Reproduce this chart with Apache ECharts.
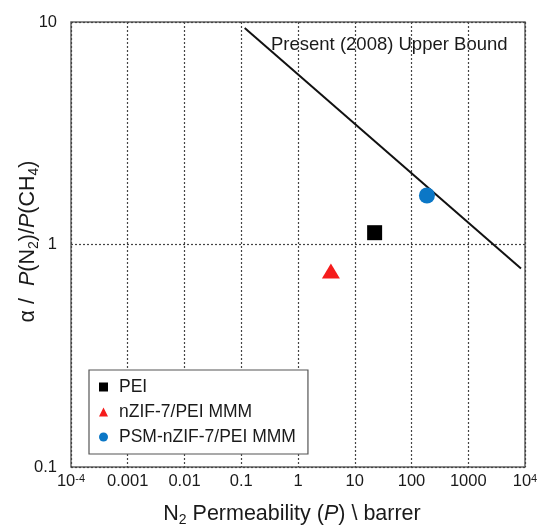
<!DOCTYPE html>
<html>
<head>
<meta charset="utf-8">
<script src="https://cdn.jsdelivr.net/npm/echarts@6/dist/echarts.min.js"></script>
<style>
html,body{margin:0;padding:0;background:#fff;}
#chart{width:538px;height:528px;}
</style>
</head>
<body>
<div id="chart"></div>
<script>
// ---- data ----
const seriesNames = ['PEI', 'nZIF-7/PEI MMM', 'PSM-nZIF-7/PEI MMM'];
const peiData = [[22.4, 1.13]];
const nzifData = [[3.8, 0.76]];
const psmData = [[187, 1.66]];
// Robeson 2008 upper bound (N2/CH4), endpoints of drawn line
const upperBoundData = [[0.115, 9.4], [8500, 0.78]];
const upperBoundLabel = 'Present (2008) Upper Bound';
// tick labels by decade exponent
const xTickExp = [-4, -3, -2, -1, 0, 1, 2, 3, 4];
const xTickLabels = ['10{sup|-4}', '0.001', '0.01', '0.1', '1', '10', '100', '1000', '10{sup|4}'];
const yTickExp = [-1, 0, 1];
const yTickLabels = ['0.1', '1', '10'];

const FONT = '"Liberation Sans", Arial, sans-serif';
const TXT = '#1a1a1a';

const chart = echarts.init(document.getElementById('chart'), null, {renderer: 'canvas'});

function expOf(v) { return Math.round(Math.log10(v)); }

const nameRich = {
  n: {fontSize: 21.5, fontFamily: FONT, color: TXT, lineHeight: 26},
  it: {fontSize: 21.5, fontFamily: FONT, color: TXT, fontStyle: 'italic', lineHeight: 26},
  sub: {fontSize: 14, fontFamily: FONT, color: TXT, verticalAlign: 'bottom', lineHeight: 14}
};

const option = {
  animation: false,
  backgroundColor: '#fff',
  textStyle: {fontFamily: FONT},
  grid: {left: 71, right: 13, top: 22, bottom: 61, outerBoundsMode: 'none', containLabel: false,
         show: true, borderColor: '#666', borderWidth: 1.5, backgroundColor: 'transparent'},
  xAxis: {
    type: 'log', logBase: 10, min: 1e-4, max: 1e4, interval: 1,
    axisLine: {show: false},
    axisTick: {show: false},
    splitLine: {show: true, lineStyle: {color: '#444', type: [2, 2], width: 1.2}},
    axisLabel: {
      fontFamily: FONT, fontSize: 16.5, color: TXT, margin: 6,
      formatter: v => { const i = xTickExp.indexOf(expOf(v)); return i >= 0 ? xTickLabels[i] : ''; },
      rich: {sup: {fontSize: 11, verticalAlign: 'top', fontFamily: FONT, color: TXT}}
    },
    name: '{n|N}{sub|2}{n| Permeability (}{it|P}{n|) \\ barrer}',
    nameLocation: 'middle', nameGap: 34, nameMoveOverlap: false,
    nameTextStyle: {fontFamily: FONT, fontSize: 21.5, color: TXT, rich: nameRich, padding: [0, 12, 0, 0]}
  },
  yAxis: {
    type: 'log', logBase: 10, min: 0.1, max: 10, interval: 1,
    axisLine: {show: false},
    axisTick: {show: false},
    splitLine: {show: true, lineStyle: {color: '#444', type: [2, 2], width: 1.2}},
    axisLabel: {
      fontFamily: FONT, fontSize: 16.5, color: TXT, margin: 14,
      formatter: v => { const i = yTickExp.indexOf(expOf(v)); return i >= 0 ? yTickLabels[i] : ''; }
    },
    name: '{n|α /  }{it|P}{n|(N}{sub|2}{n|)/}{it|P}{n|(CH}{sub|4}{n|)}',
    nameLocation: 'middle', nameGap: 30, nameRotate: 90, nameMoveOverlap: false,
    nameTextStyle: {fontFamily: FONT, fontSize: 21.5, color: TXT, rich: nameRich, padding: [0, 0, 0, 6]}
  },
  legend: {
    orient: 'vertical', left: 89, top: 370,
    data: seriesNames,
    itemWidth: 9, itemHeight: 9, itemGap: 7,
    padding: [8, 12, 8, 10],
    backgroundColor: '#fff', borderColor: '#555', borderWidth: 1.2,
    textStyle: {fontFamily: FONT, fontSize: 17.5, color: TXT, padding: [0, 0, 0, 6]}
  },
  graphic: [{
    type: 'text', left: 271, top: 35,
    style: {text: upperBoundLabel, fontFamily: FONT, fontSize: 18.5, fill: TXT}
  }],
  series: [
    {type: 'line', name: 'upper', data: upperBoundData, showSymbol: false, symbol: 'none',
     lineStyle: {color: '#111', width: 2}, z: 3, silent: true},
    {type: 'scatter', name: seriesNames[0], data: peiData, symbol: 'rect', symbolSize: 15,
     itemStyle: {color: '#000', opacity: 1}, z: 4},
    {type: 'scatter', name: seriesNames[1], data: nzifData, symbol: 'triangle', symbolSize: [18, 15],
     itemStyle: {color: '#f51c1c', opacity: 1}, z: 4},
    {type: 'scatter', name: seriesNames[2], data: psmData, symbol: 'circle', symbolSize: 16,
     itemStyle: {color: '#0b77c6', opacity: 1}, z: 4}
  ]
};
chart.setOption(option);
</script>
</body>
</html>
